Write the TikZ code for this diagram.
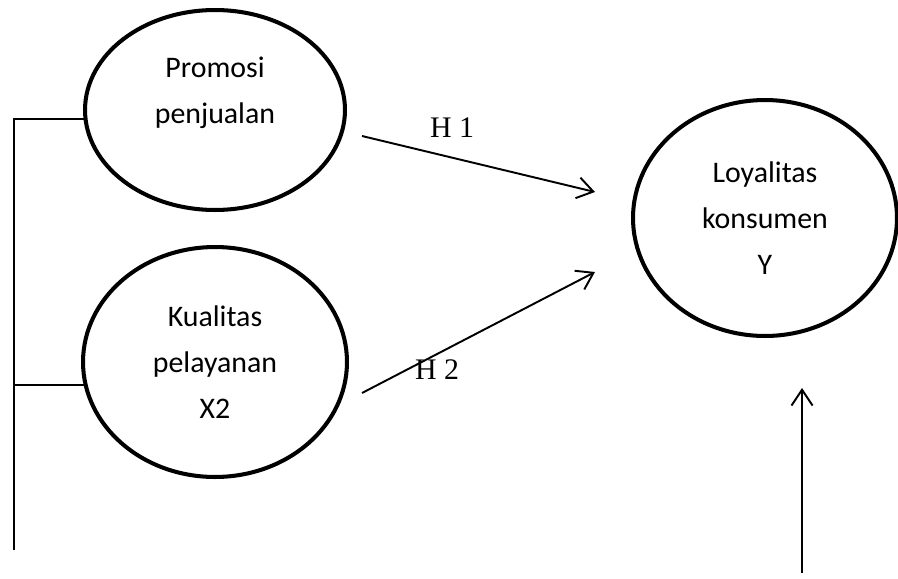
\documentclass[tikz,border=0pt]{standalone}
\usepackage{fontspec}
\newfontfamily\calibrifont{Carlito}
\newfontfamily\timesfont{Liberation Serif}
\usetikzlibrary{shapes,arrows.meta}
\tikzset{%
    construct/.style={%
        ellipse, draw, line width=2.3pt, align=center, inner sep=0pt,
        font=\calibrifont\fontsize{17}{26}\selectfont
    },
    constructtext/.style={%
        align=center, font=\calibrifont\fontsize{17}{26}\selectfont
    },
    hyp/.style={%
        font=\timesfont\fontsize{17}{20}\selectfont
    },
    link/.style={%
        line width=1.1pt, -{Straight Barb[length=9pt,width=12pt]}
    },
    rail/.style={%
        line width=0.9pt
    },
}

\begin{document}
\begin{tikzpicture}[x=0.02cm, y=-0.02cm]
      \useasboundingbox (0,0) rectangle (898,578);
      \node[construct, minimum width=5.2cm, minimum height=4cm,
            label={[constructtext, yshift=0.34cm]center:{Promosi\\penjualan}}] (promosi) at (215,110) {};
      \node[construct, minimum width=5.28cm, minimum height=4.6cm] (kualitas) at (215,362) {Kualitas\\pelayanan\\X2};
      \node[construct, minimum width=5.28cm, minimum height=4.72cm] (loyalitas) at (765,218) {Loyalitas\\konsumen\\Y};

      \coordinate (railbot) at (14,550);
      \draw[rail] (promosi.184) -| (railbot);
      \draw[rail] (kualitas.190) -- (kualitas.190 -| railbot);

      \coordinate (h1start) at (362,136);
      \coordinate (h1end) at (595,192);
      \draw[link] (h1start) -- (h1end);
      \node[hyp] (h1) at (452,128) {H 1};

      \coordinate (h2start) at (362,393);
      \coordinate (h2end) at (595,272);
      \draw[link] (h2start) -- (h2end);
      \node[hyp] (h2) at (437,370) {H 2};

      \coordinate (ybot) at (802,573);
      \coordinate (ytop) at (802,388);
      \draw[link] (ybot) -- (ytop);
    \end{tikzpicture}
\end{document}
